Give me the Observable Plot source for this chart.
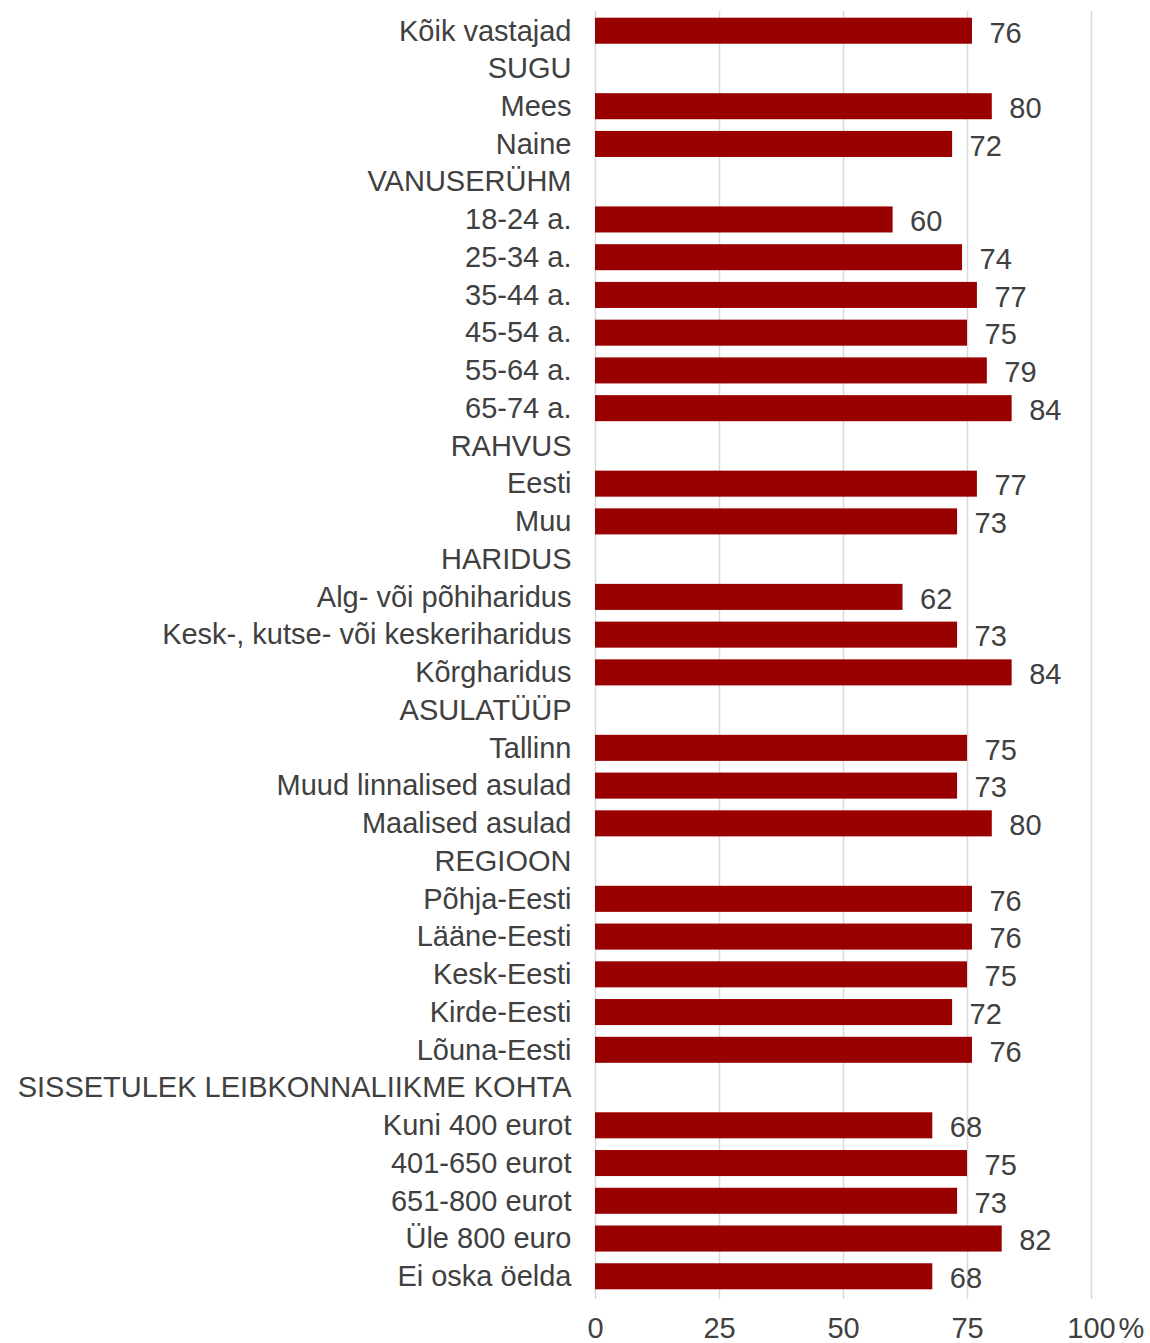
<!DOCTYPE html>
<html>
<head>
<meta charset="utf-8">
<script src="https://cdn.jsdelivr.net/npm/d3@7"></script>
<script src="https://cdn.jsdelivr.net/npm/@observablehq/plot@0.6"></script>
<style>
  html, body { margin: 0; padding: 0; background: #ffffff; }
  #chart svg { display: block; }
</style>
</head>
<body>
<div id="chart"></div>
<script>
const categories = [
  "Kõik vastajad",
  "SUGU",
  "Mees",
  "Naine",
  "VANUSERÜHM",
  "18-24 a.",
  "25-34 a.",
  "35-44 a.",
  "45-54 a.",
  "55-64 a.",
  "65-74 a.",
  "RAHVUS",
  "Eesti",
  "Muu",
  "HARIDUS",
  "Alg- või põhiharidus",
  "Kesk-, kutse- või keskeriharidus",
  "Kõrgharidus",
  "ASULATÜÜP",
  "Tallinn",
  "Muud linnalised asulad",
  "Maalised asulad",
  "REGIOON",
  "Põhja-Eesti",
  "Lääne-Eesti",
  "Kesk-Eesti",
  "Kirde-Eesti",
  "Lõuna-Eesti",
  "SISSETULEK LEIBKONNALIIKME KOHTA",
  "Kuni 400 eurot",
  "401-650 eurot",
  "651-800 eurot",
  "Üle 800 euro",
  "Ei oska öelda"
];
const values = [
  76,
  null,
  80, 72,
  null,
  60, 74, 77, 75, 79, 84,
  null,
  77, 73,
  null,
  62, 73, 84,
  null,
  75, 73, 80,
  null,
  76, 76, 75, 72, 76,
  null,
  68, 75, 73, 82, 68
];
const xTicks = [0, 25, 50, 75, 100];
const xTickLabels = ["0", "25", "50", "75", "100"];
const unitLabel = "%";

const rows = categories.map((c, i) => ({category: c, value: values[i]}));
const barRows = rows.filter(d => d.value != null);

const chart = Plot.plot({
  width: 1150,
  height: 1343,
  marginLeft: 595,
  marginRight: 59,
  marginTop: 6,
  marginBottom: 42,
  style: {fontFamily: "'Liberation Sans', Arial, sans-serif", fontSize: "29px", color: "#404040", background: "#ffffff"},
  x: {domain: [0, 100]},
  y: {domain: categories, padding: 0.31, round: false},
  marks: [
    Plot.ruleX(xTicks, {stroke: "#d9d9d9", strokeWidth: 1.5, insetTop: 5, insetBottom: 2}),
    Plot.barX(barRows, {x: "value", y: "category", fill: "#990000"}),
    Plot.text(barRows, {x: "value", y: "category", text: d => String(d.value), textAnchor: "start", dx: 17, dy: 2, fill: "#404040", fontSize: 29}),
    Plot.axisY({tickSize: 0, tickPadding: 24, fontSize: 29, fill: "#404040", label: null}),
    Plot.axisX({ticks: xTicks, tickFormat: d => xTickLabels[xTicks.indexOf(d)], tickSize: 0, tickPadding: 16, fontSize: 29, fill: "#404040", label: null}),
    Plot.text([unitLabel], {x: () => xTicks[xTicks.length - 1], frameAnchor: "bottom", text: d => d, textAnchor: "start", lineAnchor: "top", dx: 27, dy: 16, fontSize: 29, fill: "#404040"})
  ]
});
document.getElementById("chart").appendChild(chart);
</script>
</body>
</html>
